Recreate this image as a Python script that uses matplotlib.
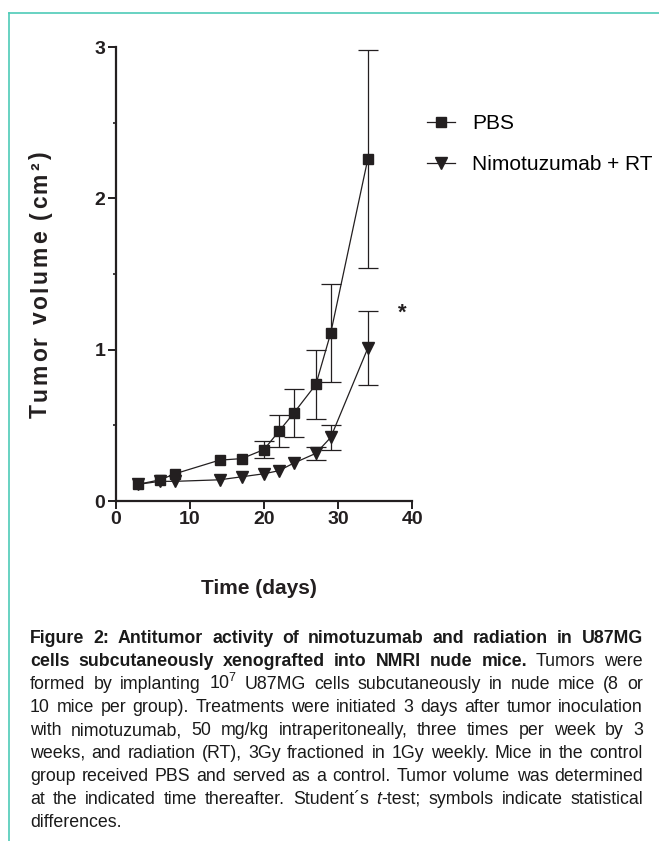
import matplotlib
matplotlib.use("Agg")
import matplotlib.pyplot as plt
from matplotlib import font_manager
from matplotlib.lines import Line2D
from matplotlib.transforms import IdentityTransform

# fonts: narrow variant if it is there
names = {f.name for f in font_manager.fontManager.ttflist}
narrow = 'Liberation Sans Narrow' if 'Liberation Sans Narrow' in names else 'Liberation Sans'
plt.rcParams['font.family'] = [narrow, 'DejaVu Sans']
plt.rcParams['mathtext.fontset'] = 'custom'
plt.rcParams['mathtext.rm'] = narrow
plt.rcParams['mathtext.it'] = narrow + ':italic'
plt.rcParams['mathtext.bf'] = narrow + ':bold'

# data (0 = error bar hidden under the marker)
days = [3, 6, 8, 14, 17, 20, 22, 24, 27, 29, 34]
pbs = [0.11, 0.14, 0.18, 0.27, 0.28, 0.34, 0.46, 0.58, 0.77, 1.11, 2.26]
pbs_err = [0, 0, 0, 0, 0, 0.055, 0.105, 0.157, 0.225, 0.326, 0.72]
nimo = [0.11, 0.13, 0.13, 0.14, 0.16, 0.18, 0.20, 0.25, 0.315, 0.42, 1.01]
nimo_err = [0, 0, 0, 0, 0, 0, 0, 0, 0.045, 0.08, 0.245]
labels = ['PBS', 'Nimotuzumab + RT']
xticks = [0, 10, 20, 30, 40]
yticks = [0, 1, 2, 3]

cap_lines = [
    "Figure 2: Antitumor activity of nimotuzumab and radiation in U87MG",
    "cells subcutaneously xenografted into NMRI nude mice. Tumors were",
    "formed by implanting 10$^7$ U87MG cells subcutaneously in nude mice (8 or",
    "10 mice per group). Treatments were initiated 3 days after tumor inoculation",
    "with nimotuzumab, 50 mg/kg intraperitoneally, three times per week by 3",
    "weeks, and radiation (RT), 3Gy fractioned in 1Gy weekly. Mice in the control",
    "group received PBS and served as a control. Tumor volume was determined",
    "at the indicated time thereafter. Student\u00b4s *t*-test; symbols indicate statistical",
    "differences.",
]
cap_bold = [10, 7, 0, 0, 0, 0, 0, 0, 0]

W, H = 659, 841
fig = plt.figure(figsize=(W / 100, H / 100), dpi=100)
ax = fig.add_axes([115.7 / W, 1 - 501 / H, 296.6 / W, 454 / H])

ink = '#231f20'
for ys, es in [(pbs, pbs_err), (nimo, nimo_err)]:
    show = [i for i, e in enumerate(es) if e > 0]
    ax.errorbar([days[i] for i in show], [ys[i] for i in show], yerr=[es[i] for i in show],
                fmt='none', ecolor=ink, elinewidth=0.9, capsize=7, capthick=0.9, zorder=2)
l1, = ax.plot(days, pbs, '-s', color=ink, lw=0.9, ms=7.8, zorder=3, label=labels[0])
l2, = ax.plot(days, nimo, '-v', color=ink, lw=0.9, ms=8, zorder=3, label=labels[1])

ax.set_xlim(0, 40)
ax.set_ylim(0, 3)
ax.set_xticks(xticks)
ax.set_yticks(yticks)
ax.set_yticks([0.5, 1.5, 2.5], minor=True)
for s in ['top', 'right']:
    ax.spines[s].set_visible(False)
for s in ['left', 'bottom']:
    ax.spines[s].set_linewidth(1.6)
    ax.spines[s].set_color(ink)
ax.tick_params(which='major', length=5.5, width=1.4, color=ink, labelsize=14, pad=2)
ax.tick_params(axis='y', which='minor', length=2, width=1.2, color=ink)
for t in ax.get_xticklabels() + ax.get_yticklabels():
    t.set_fontweight('bold')
    t.set_color(ink)

ax.text(38.7, 1.24, '*', fontsize=16, fontweight='bold', ha='center', va='center', color=ink)

ax.legend(handles=[l1, l2], loc='center left', bbox_to_anchor=(427 / W, 1 - 144 / H),
          bbox_transform=fig.transFigure, frameon=False, prop={'family': 'Liberation Sans', 'size': 15},
          handlelength=1.35, handletextpad=0.8, labelspacing=1.05, borderpad=0, borderaxespad=0)

fig.text(259 / W, 1 - 589 / H, 'Time (days)', fontsize=15, fontweight='bold', ha='center', va='center', color=ink)

renderer = fig.canvas.get_renderer()
ident = IdentityTransform()

# y label with a little letter spacing, drawn char by char
ylab = 'Tumor volume (cm\u00b2)'
ypos = H - 418
for ch in ylab:
    t = fig.text(47, ypos, ch, transform=ident, rotation=90, rotation_mode='anchor',
                 ha='left', va='baseline', fontsize=16.5, fontweight='bold',
                 family='Liberation Sans', color=ink)
    bb = t.get_window_extent(renderer)
    ypos += (bb.height if ch != ' ' else 6) + 2.8


# caption, justified
def word_pieces(word, weight):
    if word.startswith('*t*'):
        return [('t', weight, 'italic'), (word[3:], weight, 'normal')]
    return [(word, weight, 'normal')]


def make_line(i, size, base):
    words = cap_lines[i].split(' ')
    placed = []
    total = 0
    for j, w in enumerate(words):
        weight = 'bold' if j < cap_bold[i] else 'normal'
        arts = []
        ww = 0
        for txt, wt, st in word_pieces(w, weight):
            t = fig.text(0, base, txt, transform=ident, fontsize=size, fontweight=wt,
                         fontstyle=st, va='baseline', ha='left', color='#1a1a1a')
            arts.append((t, ww))
            ww += t.get_window_extent(renderer).width
        placed.append((arts, ww))
        total += ww
    return placed, total


def space_width(size):
    tmp = fig.text(0, 0, 'a a', fontsize=size, transform=ident)
    w2 = tmp.get_window_extent(renderer).width
    tmp.set_text('aa')
    w1 = tmp.get_window_extent(renderer).width
    tmp.remove()
    return w2 - w1


x_left, x_right = 30, 643
span = x_right - x_left

# pick the caption size so the widest line just fits with normal spaces
probe = 10
sw = space_width(probe)
ratios = []
for i in range(len(cap_lines) - 1):
    placed, total = make_line(i, probe, 0)
    natural = total + sw * (len(placed) - 1)
    ratios.append(span / natural)
    for arts, _ in placed:
        for t, _ in arts:
            t.remove()
cap_size = probe * min(ratios) * 0.985
sw = space_width(cap_size)

for i in range(len(cap_lines)):
    placed, total = make_line(i, cap_size, H - (643 + 23 * i))
    if i < len(cap_lines) - 1:
        gap = (span - total) / (len(placed) - 1)
    else:
        gap = sw
    x = x_left
    for arts, ww in placed:
        for t, off in arts:
            t.set_x(x + off)
        x += ww + gap

# teal frame
teal = '#4ecbb8'
fig.add_artist(Line2D([8.5, W], [H - 12.5, H - 12.5], transform=ident, color=teal, lw=1.2))
fig.add_artist(Line2D([8.5, 8.5], [0, H - 12.5], transform=ident, color=teal, lw=1.2))

fig.savefig('out.png', dpi=100)
